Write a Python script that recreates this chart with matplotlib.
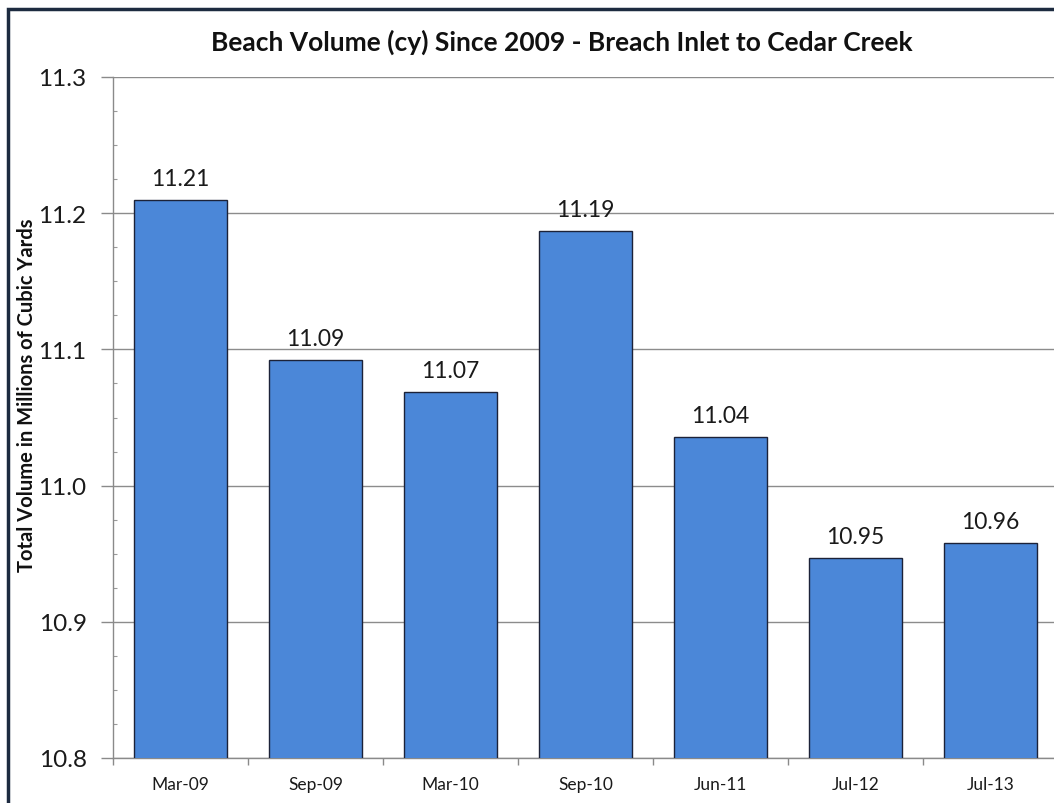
import matplotlib
matplotlib.use("Agg")
import matplotlib.pyplot as plt
from matplotlib.patches import Rectangle
from matplotlib.ticker import FixedLocator, MultipleLocator
import numpy as np

categories = ["Mar-09", "Sep-09", "Mar-10", "Sep-10", "Jun-11", "Jul-12", "Jul-13"]
volumes = [11.21, 11.092, 11.069, 11.187, 11.036, 10.947, 10.958]
title = "Beach Volume (cy) Since 2009 - Breach Inlet to Cedar Creek"
ylabel = "Total Volume in Millions of Cubic Yards"
yticks = [10.8, 10.9, 11.0, 11.1, 11.2, 11.3]

plt.rcParams['font.family'] = ['Lato', 'DejaVu Sans']

W, H = 1054, 804
fig = plt.figure(figsize=(W / 100, H / 100), dpi=100)
fig.patch.set_facecolor("white")

left, right, top, bottom = 113, 1058, 78, 759
ax = fig.add_axes([left / W, 1 - bottom / H, (right - left) / W, (bottom - top) / H])

x = np.arange(len(categories))
bars = ax.bar(x, volumes, width=0.69, color="#4b87d8", edgecolor="#1c2238",
              linewidth=1.0, zorder=3)

ax.set_xlim(-0.5, len(categories) - 0.5)
ax.set_ylim(10.8, 11.3)
ax.set_yticks(yticks)
ax.set_yticklabels([f"{v:.1f}" for v in yticks], fontsize=17.5, color="#1a1a1a")
ax.yaxis.set_minor_locator(MultipleLocator(0.025))
ax.tick_params(axis="y", which="major", length=9, width=1, color="#8a8a8a", pad=10)
ax.tick_params(axis="y", which="minor", length=3, width=0.8, color="#9a9a9a", direction="in")

ax.set_xticks(x)
ax.set_xticklabels(categories, fontsize=12.5, color="#1a1a1a")
ax.xaxis.set_minor_locator(FixedLocator(np.arange(len(categories) + 1) - 0.5))
ax.tick_params(axis="x", which="major", length=0, pad=13)
ax.tick_params(axis="x", which="minor", length=5, width=1, color="#8a8a8a")

ax.grid(axis="y", which="major", color="#8c8c8c", linewidth=1.0, zorder=0)
ax.set_axisbelow(True)
for s in ["top", "right"]:
    ax.spines[s].set_visible(False)
for s in ["left", "bottom"]:
    ax.spines[s].set_color("#8a8a8a")
    ax.spines[s].set_linewidth(1.0)

for xi, v in zip(x, volumes):
    ax.text(xi, v + 0.008, f"{v:.2f}", ha="center", va="bottom", fontsize=16.5, color="#1a1a1a")

fig.text(562 / W, 1 - 42 / H, title, ha="center", va="center", fontsize=19,
         fontweight="bold", color="#111111")
fig.text(27 / W, 1 - 395 / H, ylabel, ha="center", va="center", rotation=90,
         fontsize=14.5, fontweight="bold", color="#111111")

# outer chart frame (left and top edges visible)
fig.add_artist(Rectangle((8 / W, -0.1), 1.2, 1 - 10 / H + 0.1, transform=fig.transFigure,
                         fill=False, edgecolor="#1d2b40", linewidth=2.5, clip_on=False))

fig.savefig("out.png", dpi=100)
